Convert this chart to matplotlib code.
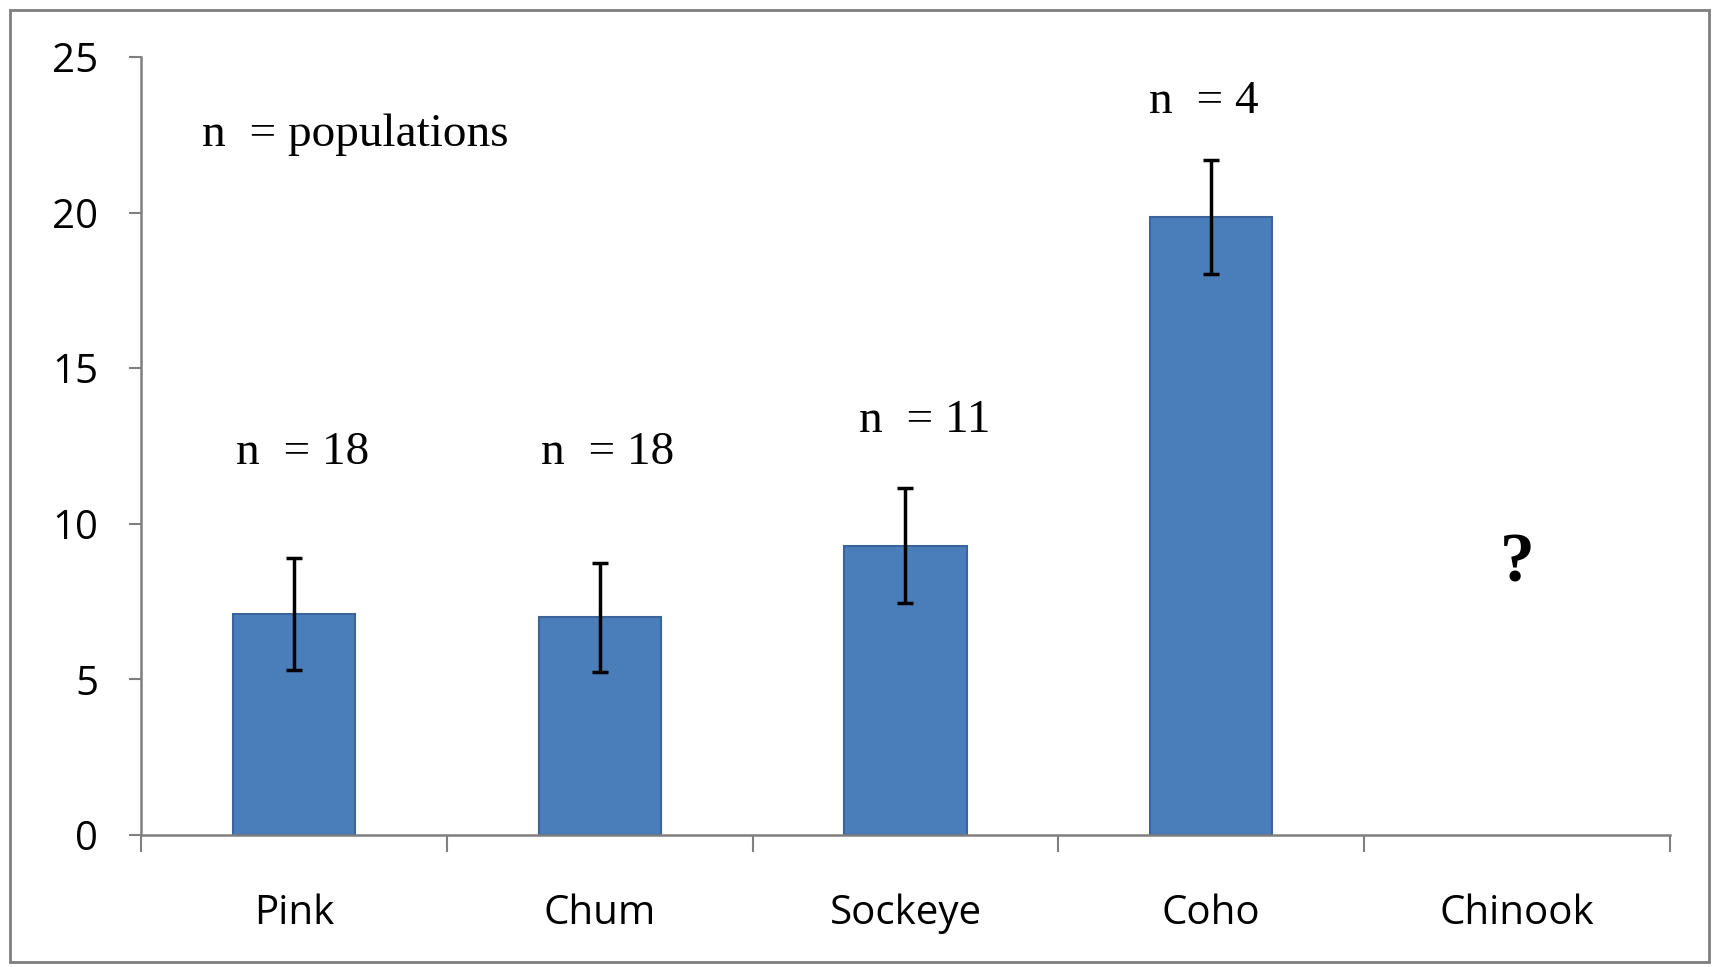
import numpy as np
import matplotlib.pyplot as plt
from matplotlib.patches import Rectangle

species = ['Pink', 'Chum', 'Sockeye', 'Coho', 'Chinook']
means = [7.1, 7.0, 9.3, 19.85, np.nan]
errors = [1.8, 1.75, 1.85, 1.83, np.nan]
n_labels = ['n  = 18', 'n  = 18', 'n  = 11', 'n  = 4']
n_label_x = [0.03, 1.025, 2.064, 2.975]
n_label_y = [12.3, 12.3, 13.3, 23.55]

fig = plt.figure(figsize=(17.12, 9.67), dpi=100)
ax = fig.add_axes([0.0824, 0.1365, 0.893, 0.8045])

x = np.arange(len(species))
ax.bar(x, means, width=0.4, color='#4A7EBB', edgecolor='#3A649A', linewidth=1.5, zorder=2)
ax.errorbar(x, means, yerr=errors, fmt='none', ecolor='black', elinewidth=2.5,
            capsize=6, capthick=2.5, zorder=3)

ax.set_xlim(-0.5, 4.5)
ax.set_ylim(0, 25)
ax.set_yticks([0, 5, 10, 15, 20, 25])
ax.set_yticklabels(['0', '5', '10', '15', '20', '25'], fontsize=29, family='Open Sans')
ax.tick_params(axis='y', length=9, width=1.5, color='#7f7f7f', pad=22)

# category boundaries as ticks, names on minor ticks
ax.set_xticks(np.arange(-0.5, 5, 1.0))
ax.set_xticklabels([])
ax.set_xticks(x, minor=True)
ax.set_xticklabels(species, minor=True, fontsize=29, family='Open Sans')
ax.tick_params(axis='x', which='major', length=12, width=1.5, color='#7f7f7f', direction='out')
ax.tick_params(axis='x', which='minor', length=0, pad=42)

for s in ['top', 'right']:
    ax.spines[s].set_visible(False)
for s in ['left', 'bottom']:
    ax.spines[s].set_color('#7f7f7f')
    ax.spines[s].set_linewidth(1.8)

for lx, lab, ly in zip(n_label_x, n_labels, n_label_y):
    ax.text(lx, ly, lab, ha='center', va='center', fontsize=34,
            family='Liberation Serif')

ax.text(-0.3, 22.5, 'n  = populations', ha='left', va='center', fontsize=34,
        family='Liberation Serif')
ax.text(4.0, 8.7, '?', ha='center', va='center', fontsize=50, fontweight='bold',
        family='Liberation Serif')

# outer frame
fig.patches.append(Rectangle((0.006, 0.005), 0.992, 0.985, transform=fig.transFigure,
                             fill=False, edgecolor='#7f7f7f', linewidth=2))

fig.savefig('out.png', dpi=100)
